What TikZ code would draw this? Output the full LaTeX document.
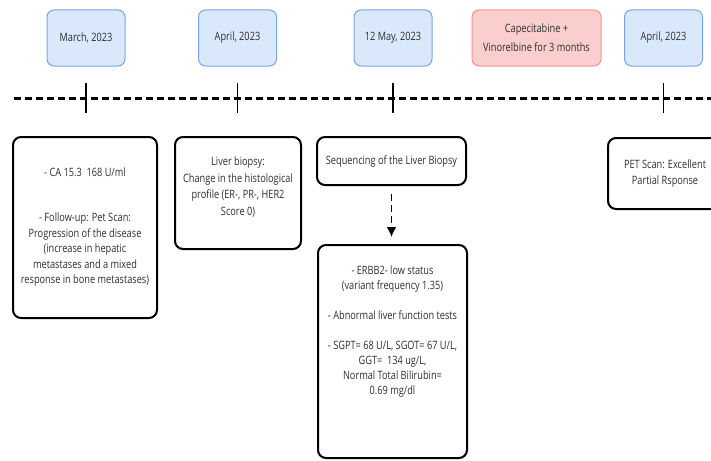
\documentclass[tikz,border=0pt]{standalone}
\usepackage{fontspec}
\setmainfont{Open Sans}[FakeStretch=0.8]
\usetikzlibrary{arrows.meta}
\tikzset{>={Latex[length=10pt,width=10pt]}}
\colorlet{txt}{black!82}
\definecolor{datefill}{RGB}{218,232,252}
\definecolor{dateedge}{RGB}{120,165,225}
\definecolor{drugfill}{RGB}{250,206,205}
\definecolor{drugedge}{RGB}{238,150,150}
\tikzstyle{date}=[draw=dateedge,fill=datefill,line width=1,rounded corners=7,minimum width=78,minimum height=56,text=txt,align=center,font=\fontsize{11.5}{19}\selectfont]
\tikzstyle{drug}=[date,draw=drugedge,fill=drugfill,minimum width=129]
\tikzstyle{event}=[draw,line width=2,rounded corners=8,align=center,text=txt,font=\fontsize{11.5}{15.5}\selectfont]
\tikzstyle{tick}=[line width=1.6]
\tikzstyle{line}=[line width=3,dash pattern=on 7 off 4]
\tikzstyle{arrow}=[->,line width=1.8,dash pattern=on 7 off 4]

\begin{document}
\begin{tikzpicture}[x=1pt,y=-1pt]
  \useasboundingbox (0,0) rectangle (711,460);
  \clip (0,0) rectangle (711,460);

  % DATES
  \node[date] (DA) at (86,38)    {March, 2023};
  \node[date] (DB) at (237.5,38) {April, 2023};
  \node[date] (DC) at (393,38)   {12 May, 2023};
  \node[drug] (DD) at (536.5,38) {Capecitabine +\\Vinorelbine for 3 months};
  \node[date] (DE) at (663.5,38) {April, 2023};

  % TIMELINE
  \coordinate (L0) at (14,98);
  \coordinate (L1) at (711,98);
  \draw[line] (L0) -- (L1);
  \foreach \n in {DA,DB,DC,DE}
    \draw[tick] (\n |- L0) ++ (0,-15) -- ++ (0,30);

  % EVENTS
  \node[event,minimum width=144,minimum height=181] (BA) at (85,227.5)
    {- CA 15.3~~168 U/ml\\[29.5pt]- Follow-up: Pet Scan:\\Progression of the disease\\(increase in hepatic\\metastases and a mixed\\response in bone metastases)};
  \node[event,minimum width=126,minimum height=112] (BB) at (238,193) {};
  \node[text=txt,align=center,font=\fontsize{11.5}{16.5}\selectfont,yshift=6] (BBt) at (BB)
    {Liver biopsy:\\Change in the histological\\profile (ER-, PR-, HER2\\Score 0)};
  \node[event,minimum width=149,minimum height=48] (BC) at (391.5,161)
    {Sequencing of the Liver Biopsy};
  \node[event,minimum width=149,minimum height=213] (BD) at (392.5,351.5) {};
  \node[text=txt,align=center,font=\fontsize{11.5}{15}\selectfont,anchor=north,yshift=-18] (BDt) at (BD.north)
    {- ERBB2- low status\\(variant frequency 1.35)\\[15pt]- Abnormal liver function tests\\[15pt]- SGPT= 68 U/L, SGOT= 67 U/L,\\GGT=~~134 ug/L,\\Normal Total Bilirubin=\\0.69 mg/dl};
  \node[event,minimum width=114,minimum height=71] (BE) at (665,173.5)
    {PET Scan: Excellent\\Partial Rsponse};

  \draw[arrow,shorten <=8,shorten >=7] (BC.south) -- (BC.south |- BD.north);
\end{tikzpicture}
\end{document}
